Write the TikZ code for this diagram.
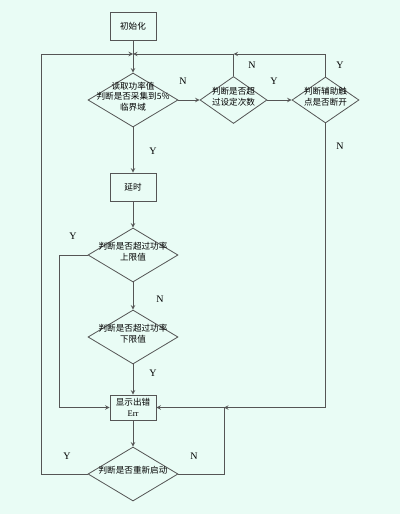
\documentclass[tikz,border=0pt]{standalone}
\usepackage{fontspec}
\setmainfont{Liberation Serif}
\newfontfamily\cjk{Noto Sans CJK SC}
\usepackage{tikz}
\usetikzlibrary{shapes.geometric}
\definecolor{bgmint}{RGB}{233,252,245}
\definecolor{linegray}{RGB}{85,85,85}
% text set in a diamond without widening it
\newcommand{\dtext}[1]{\smash{\makebox[0pt]{\begin{tabular}{@{}c@{}}#1\end{tabular}}}}

\begin{document}
\begin{tikzpicture}[x=1pt, y=-1pt,
        proc/.style={rectangle, draw=linegray, line width=0.8pt, inner sep=1pt, minimum width=46pt, font=\cjk\fontsize{8.6}{10.5}\selectfont, align=center},
        dec/.style={diamond, draw=linegray, line width=0.8pt, inner sep=0pt, font=\cjk\fontsize{8.6}{10.5}\selectfont},
        flow/.style={->, >=stealth, draw=linegray, line width=1pt},
        lbl/.style={font=\fontsize{10}{12}\selectfont}
    ]
        \fill[bgmint] (0,0) rectangle (400,514);
        \useasboundingbox (0,0) rectangle (400,514);

        % Nodes
        \node[proc, minimum height=28pt] (init) at (133,26) {初始化};
        \node[dec, minimum width=90pt, minimum height=54pt] (dread) at (133,100) {\dtext{读取功率值\\判断是否采集到5\%\\临界域}};
        \node[dec, minimum width=67pt, minimum height=47pt] (dcount) at (233.5,100) {\dtext{判断是否超\\过设定次数}};
        \node[dec, minimum width=67pt, minimum height=46pt] (daux) at (325.5,100) {\dtext{判断辅助触\\点是否断开}};
        \node[proc, minimum height=28pt] (delay) at (133,187) {延时};
        \node[dec, minimum width=90pt, minimum height=54pt] (dupper) at (133,255) {\dtext{判断是否超过功率\\上限值}};
        \node[dec, minimum width=90pt, minimum height=54pt] (dlower) at (133,337) {\dtext{判断是否超过功率\\下限值}};
        \node[proc, minimum height=25pt] (err) at (133,407.5) {显示出错\\{\rmfamily Err}};
        \node[dec, minimum width=90pt, minimum height=54pt] (drestart) at (133,474) {\dtext{判断是否重新启动}};
        \coordinate (ctop) at (133,54);
        \coordinate (cerr) at (224,407.5);

        % Edges
        \draw[flow] (init) -- (dread);
        \draw[flow] (dread) -- (dcount);
        \draw[flow] (dcount) -- (daux);
        \draw[flow] (dcount.north) |- (ctop);
        \draw[flow] (daux.north) |- (dcount.north |- ctop);
        \draw[flow] (daux.south) |- (cerr);
        \draw[flow] (dread) -- (delay);
        \draw[flow] (delay) -- (dupper);
        \draw[flow] (dupper.west) -- ++(-28,0) |- (err.west);
        \draw[flow] (dupper) -- (dlower);
        \draw[flow] (dlower) -- (err);
        \draw[flow] (err) -- (drestart);
        \draw[flow] (drestart.west) -- ++(-46,0) |- (ctop);
        \draw[flow] (drestart.east) -| (cerr) -- (err.east);

        % Labels
        \node[lbl] at (183,81) {N};
        \node[lbl] at (252,65) {N};
        \node[lbl] at (274,81) {Y};
        \node[lbl] at (340,65) {Y};
        \node[lbl] at (340,146) {N};
        \node[lbl] at (153,151) {Y};
        \node[lbl] at (73,236) {Y};
        \node[lbl] at (160,299) {N};
        \node[lbl] at (153,373) {Y};
        \node[lbl] at (67,456) {Y};
        \node[lbl] at (194,456) {N};

    \end{tikzpicture}
\end{document}
